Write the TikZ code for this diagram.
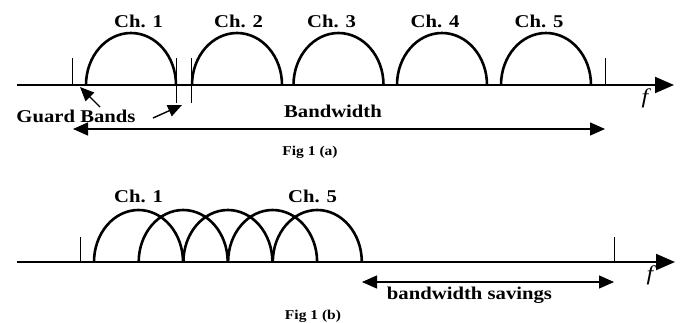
\documentclass[tikz,border=0pt]{standalone}
\usepackage{fontspec}
\setmainfont{Liberation Serif}[FakeStretch=1.15]
\usetikzlibrary{arrows.meta}
\begin{document}
\begin{tikzpicture}[x=1pt,y=-1pt,
  lbl/.style={font=\fontsize{18}{20}\selectfont\bfseries, inner sep=0pt, anchor=base},
  figcap/.style={font=\fontsize{13.5}{15}\selectfont\bfseries, inner sep=0pt, anchor=base},
  arch/.style={line width=2.6pt},
  axisline/.style={line width=2pt, -{Triangle[length=19pt,width=16pt]}},
  tickline/.style={line width=1pt},
  dimline/.style={line width=1.3pt, {Triangle[length=15pt,width=13pt]}-{Triangle[length=15pt,width=13pt]}},
  ptr/.style={line width=1.4pt, -{Triangle[length=14pt,width=12pt]}},
  freq/.style={font=\fontsize{21}{23}\selectfont\itshape, inner sep=0pt}]
\useasboundingbox (0,0) rectangle (684,323);

% ---------- Fig 1 (a) ----------
\coordinate (a0) at (17,85);
\coordinate (a1) at (674,85);
\draw[axisline] (a0) -- (a1);
\node[freq] (fa) at (645,98) {f};

\foreach \x/\c/\n in {86/138.5/1,192/238.5/2,293.5/331.5/3,397/435/4,501/539/5}{
  \coordinate (s\n) at (\x,85);
  \draw[arch] (s\n) arc[start angle=180,end angle=360,x radius=45,y radius=52];
  \node[lbl] (cha\n) at (\c,28) {Ch. \n};
}

\coordinate (t1a) at (72,58);   \coordinate (t1b) at (72,85);
\coordinate (t2a) at (176,58);  \coordinate (t2b) at (176,103);
\coordinate (t3a) at (191,58);  \coordinate (t3b) at (191,103);
\coordinate (t4a) at (605,58);  \coordinate (t4b) at (605,85);
\draw[tickline] (t1a) -- (t1b);
\draw[tickline] (t2a) -- (t2b);
\draw[tickline] (t3a) -- (t3b);
\draw[tickline] (t4a) -- (t4b);

\node[lbl] (guard) at (76,123) {Guard Bands};
\coordinate (g1s) at (100,107); \coordinate (g1e) at (80,87);
\coordinate (g2s) at (153,118); \coordinate (g2e) at (182,105);
\draw[ptr] (g1s) -- (g1e);
\draw[ptr] (g2s) -- (g2e);

\node[lbl] (bw) at (333,118) {Bandwidth};
\coordinate (bwl) at (73,129); \coordinate (bwr) at (605,129);
\draw[dimline] (bwl) -- (bwr);
\node[figcap] (figa) at (310,156) {Fig 1 (a)};

% ---------- Fig 1 (b) ----------
\coordinate (b0) at (17,262);
\coordinate (b1) at (675,262);
\draw[axisline] (b0) -- (b1);
\node[freq] (fb) at (650,275) {f};

\foreach \k in {0,...,4}{
  \coordinate (u\k) at ({94+44.7*\k},262);
  \draw[arch] (u\k) arc[start angle=180,end angle=360,x radius=44.5,y radius=52];
}
\node[lbl] (chb1) at (138.5,202) {Ch. 1};
\node[lbl] (chb5) at (312.5,202) {Ch. 5};

\coordinate (v1a) at (80,237);  \coordinate (v1b) at (80,262);
\coordinate (v2a) at (614,237); \coordinate (v2b) at (614,262);
\draw[tickline] (v1a) -- (v1b);
\draw[tickline] (v2a) -- (v2b);

\coordinate (svl) at (362,282); \coordinate (svr) at (614,282);
\draw[dimline] (svl) -- (svr);
\node[lbl] (sav) at (469.5,299) {bandwidth savings};
\node[figcap] (figb) at (313,319) {Fig 1 (b)};
\end{tikzpicture}
\end{document}
